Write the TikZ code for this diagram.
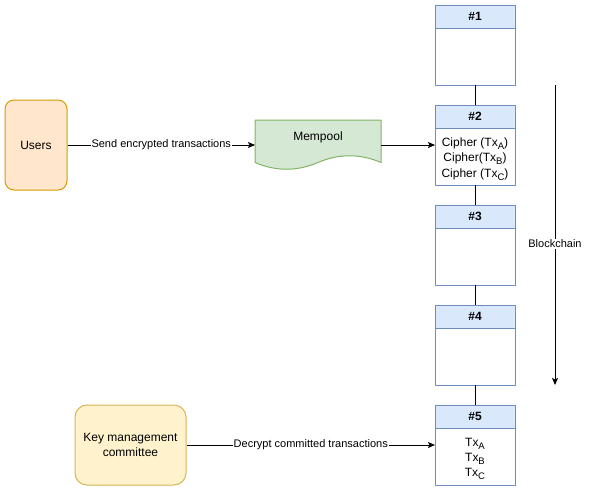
\documentclass[tikz,border=0pt]{standalone}
\usepackage{fontspec}
\setmainfont{Liberation Sans}
\usetikzlibrary{positioning,arrows.meta}
\definecolor{usrfill}{HTML}{FFE6CC}
\definecolor{usrdraw}{HTML}{D79B00}
\definecolor{memfill}{HTML}{D5E8D4}
\definecolor{memdraw}{HTML}{82B366}
\definecolor{kmcfill}{HTML}{FFF2CC}
\definecolor{kmcdraw}{HTML}{D6B656}
\definecolor{blkfill}{HTML}{DAE8FC}
\definecolor{blkdraw}{HTML}{6C8EBF}
\newcommand\txsub[1]{\raisebox{-3pt}{\fontsize{9.5}{9.5}\selectfont #1}}
\begin{document}
\begin{tikzpicture}[x=1pt, y=-1pt, line join=round, line width=1pt, font=\fontsize{12}{14}\selectfont,
	>={Stealth[length=7pt,width=6pt,inset=1.5pt]},
	actor/.style={draw, line width=1pt, inner sep=0pt, align=center},
	blockhead/.style={draw=blkdraw, fill=blkfill, minimum width=80pt, minimum height=23pt, inner sep=0pt, outer sep=0pt, font=\fontsize{12}{14}\selectfont\bfseries},
	blockbody/.style={draw=blkdraw, minimum width=80pt, minimum height=57pt, inner sep=0pt, outer sep=0pt},
	blocktext/.style={inner sep=0pt, align=center, font=\fontsize{12}{15.3}\selectfont},
	edgelabel/.style={fill=white, inner sep=1pt, font=\fontsize{11}{13}\selectfont}]
			\useasboundingbox (0,0) rectangle (590,491);
			% actors
			\node[actor, fill=usrfill, draw=usrdraw, rounded corners=9pt, minimum width=62pt, minimum height=90pt] (users) at (36,145) {Users};
			\node[actor, fill=kmcfill, draw=kmcdraw, rounded corners=12pt, minimum width=111pt, minimum height=80pt, font=\fontsize{12}{15}\selectfont] (kmc) at (130.5,445) {Key management\\committee};
			% mempool
			\draw[fill=memfill, draw=memdraw] (255,120) -- (381,120) -- (381,162.5)
				.. controls (360,153.5) and (339,153.5) .. (318,162.5)
				.. controls (297,171.5) and (276,171.5) .. (255,162.5) -- cycle;
			\node (mempool) at (318,137) {Mempool};
			\coordinate (mpin) at (255,145);
			\coordinate (mpout) at (381,145);
			% blocks
			\node[blockhead] (b1h) at (475,16.5) {\#1};
			\node[blockbody, below=0pt of b1h] (b1) {};
			\node[blockhead] (b2h) at (475,116.5) {\#2};
			\node[blockbody, below=0pt of b2h] (b2) {};
			\node[blocktext] (b2txt) at ([yshift=-2.5pt]b2.center) {Cipher (Tx\txsub{A})\\Cipher(Tx\txsub{B})\\Cipher (Tx\txsub{C})};
			\node[blockhead] (b3h) at (475,216.5) {\#3};
			\node[blockbody, below=0pt of b3h] (b3) {};
			\node[blockhead] (b4h) at (475,316.5) {\#4};
			\node[blockbody, below=0pt of b4h] (b4) {};
			\node[blockhead] (b5h) at (475,416.5) {\#5};
			\node[blockbody, below=0pt of b5h] (b5) {};
			\node[blocktext] (b5txt) at ([yshift=-2.5pt]b5.center) {Tx\txsub{A}\\Tx\txsub{B}\\Tx\txsub{C}};
			\draw (b1.south) -- (b2h.north) (b2.south) -- (b3h.north) (b3.south) -- (b4h.north) (b4.south) -- (b5h.north);
			% chain direction
			\coordinate (chtop) at (555,85);
			\coordinate (chbot) at (555,385);
			\draw[->] (chtop) -- node[edgelabel, pos=0.53] (chain) {Blockchain} (chbot);
			% flows
			\draw[->] (users) -- node[edgelabel] (send) {Send encrypted transactions} (mpin);
			\draw[->] (mpout) -- (b2.west |- mpout);
			\draw[->] (kmc) -- node[edgelabel] (decrypt) {Decrypt committed transactions} (b5.west |- kmc);
\end{tikzpicture}
\end{document}
